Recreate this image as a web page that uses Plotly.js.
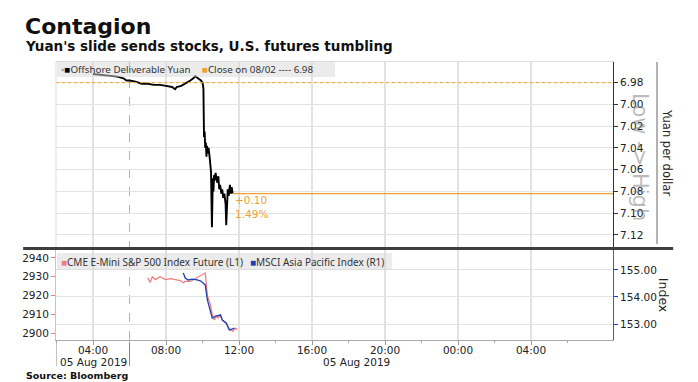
<!DOCTYPE html>
<html>
<head>
<meta charset="utf-8">
<script src="https://cdn.plot.ly/plotly-3.0.1.min.js"></script>
<style>html,body{margin:0;padding:0;background:#fff;}#chart{width:698px;height:382px;}</style>
</head>
<body>
<div id="chart"></div>
<script>
// ---- Data ----
const yuanTime = ["2019-08-05 04:00","2019-08-05 04:30","2019-08-05 05:00","2019-08-05 05:20","2019-08-05 05:40","2019-08-05 05:50","2019-08-05 06:00","2019-08-05 06:20","2019-08-05 06:40","2019-08-05 07:00","2019-08-05 07:20","2019-08-05 07:40","2019-08-05 08:00","2019-08-05 08:20","2019-08-05 08:30","2019-08-05 08:35","2019-08-05 08:50","2019-08-05 09:10","2019-08-05 09:20","2019-08-05 09:30","2019-08-05 09:36","2019-08-05 09:45","2019-08-05 09:55","2019-08-05 10:00","2019-08-05 10:03","2019-08-05 10:05","2019-08-05 10:07","2019-08-05 10:09","2019-08-05 10:11","2019-08-05 10:13","2019-08-05 10:15","2019-08-05 10:17","2019-08-05 10:20","2019-08-05 10:24","2019-08-05 10:28","2019-08-05 10:31","2019-08-05 10:32","2019-08-05 10:34","2019-08-05 10:36","2019-08-05 10:38","2019-08-05 10:40","2019-08-05 10:43","2019-08-05 10:46","2019-08-05 10:49","2019-08-05 10:52","2019-08-05 10:55","2019-08-05 10:58","2019-08-05 11:02","2019-08-05 11:05","2019-08-05 11:08","2019-08-05 11:12","2019-08-05 11:16","2019-08-05 11:18","2019-08-05 11:20","2019-08-05 11:23","2019-08-05 11:26","2019-08-05 11:30","2019-08-05 11:33","2019-08-05 11:36","2019-08-05 11:39"];
const yuanVal = [6.972,6.973,6.974,6.9745,6.976,6.978,6.978,6.979,6.981,6.981,6.982,6.982,6.983,6.984,6.986,6.984,6.983,6.980,6.978,6.976,6.974,6.976,6.978,6.980,6.985,7.030,7.025,7.040,7.035,7.048,7.038,7.045,7.040,7.050,7.062,7.113,7.075,7.068,7.080,7.065,7.070,7.063,7.068,7.072,7.066,7.078,7.074,7.082,7.078,7.086,7.082,7.092,7.111,7.088,7.078,7.084,7.074,7.082,7.076,7.082];

const spTime = ["2019-08-05 07:00","2019-08-05 07:08","2019-08-05 07:15","2019-08-05 07:25","2019-08-05 07:40","2019-08-05 07:58","2019-08-05 08:15","2019-08-05 08:30","2019-08-05 08:47","2019-08-05 08:57","2019-08-05 09:03","2019-08-05 09:20","2019-08-05 09:36","2019-08-05 09:50","2019-08-05 10:02","2019-08-05 10:09","2019-08-05 10:16","2019-08-05 10:26","2019-08-05 10:32","2019-08-05 10:39","2019-08-05 10:46","2019-08-05 10:52","2019-08-05 10:59","2019-08-05 11:05","2019-08-05 11:15","2019-08-05 11:25","2019-08-05 11:32","2019-08-05 11:40","2019-08-05 11:48","2019-08-05 11:55"];
const spVal = [2929.5,2927,2930,2928.5,2930,2928.5,2929,2928.5,2928,2926.8,2927.5,2927.5,2929,2930.5,2931.5,2932,2920,2915,2909.6,2907,2909,2908,2910,2907,2905.5,2903.5,2901.6,2901,2902.5,2902];

const msciTime = ["2019-08-05 08:57","2019-08-05 09:03","2019-08-05 09:13","2019-08-05 09:26","2019-08-05 09:42","2019-08-05 09:53","2019-08-05 10:02","2019-08-05 10:09","2019-08-05 10:16","2019-08-05 10:26","2019-08-05 10:32","2019-08-05 10:41","2019-08-05 10:59","2019-08-05 11:05","2019-08-05 11:18","2019-08-05 11:28","2019-08-05 11:38","2019-08-05 11:45"];
const msciVal = [154.89,154.70,154.63,154.66,154.63,154.60,154.52,154.44,153.89,153.52,153.22,153.28,153.33,153.15,153.04,152.78,152.81,152.85];

const prevClose = 6.98;
const changeLabels = ["+0.10", "1.49%"];
const sessionBreak = "2019-08-05 06:00";
const dateLabelTimes = ["2019-08-05 04:00", "2019-08-05 18:27"];
const dateLabelText = ["05 Aug 2019", "05 Aug 2019"];
const xRange = ["2019-08-05 01:58:21", "2019-08-06 08:29:35"];
const xTickVals = ["2019-08-05 04:00","2019-08-05 08:00","2019-08-05 12:00","2019-08-05 16:00","2019-08-05 20:00","2019-08-06 00:00","2019-08-06 04:00"];
const xTickText = ["04:00","08:00","12:00","16:00","20:00","00:00","04:00"];
const xMinorVals = ["2019-08-05 02:00","2019-08-05 06:00","2019-08-05 10:00","2019-08-05 14:00","2019-08-05 18:00","2019-08-05 22:00","2019-08-06 02:00","2019-08-06 06:00"];
const legendTop = ["Offshore Deliverable Yuan", "Close on 08/02 ---- " + prevClose.toFixed(2)];
const legendBottom = ["CME E-Mini S&P 500 Index Future (L1)", "MSCI Asia Pacific Index (R1)"];

// ---- Styles ----
const FONT = "DejaVu Sans";
const ORANGE = "#f0a030";
const PINK = "#ef7f7f";
const BLUE = "#1f3fb5";
const GRID = "#e2e2e2";
const VGRID = "#d9d9d9";
const lastTime = yuanTime[yuanTime.length - 1];
const lastVal = yuanVal[yuanVal.length - 1];
const TOP_DOM = [0.331, 1];
const BOT_DOM = [0, 0.324];

const traces = [
  {x: yuanTime, y: yuanVal, xaxis: "x2", yaxis: "y", type: "scatter", mode: "lines",
   line: {color: "#000", width: 1.9}, hoverinfo: "skip"},
  {x: spTime, y: spVal, xaxis: "x", yaxis: "y3", type: "scatter", mode: "lines",
   line: {color: PINK, width: 1.3}, hoverinfo: "skip"},
  {x: msciTime, y: msciVal, xaxis: "x", yaxis: "y4", type: "scatter", mode: "lines",
   line: {color: BLUE, width: 1.3}, hoverinfo: "skip"}
];

const tickFont = {family: FONT, size: 10.5, color: "#222"};
const legFont = {family: "Noto Sans", size: 9.8, color: "#333"};

// vertical grid lines at the x tick positions (both panels)
const gridShapes = [];
xTickVals.forEach(v => {
  [TOP_DOM, BOT_DOM].forEach(d => gridShapes.push({
    type: "line", xref: "x", yref: "paper", x0: v, x1: v, y0: d[0], y1: d[1],
    line: {color: VGRID, width: 1.5}, layer: "below"
  }));
});
const minorShapes = xMinorVals.map(v => ({
  type: "line", xref: "x", yref: "paper", x0: v, x1: v, y0: 0, y1: -0.011,
  line: {color: "#aaa", width: 1}
}));

const layout = {
  width: 698, height: 382,
  margin: {l: 56, r: 85, t: 62, b: 42, pad: 0},
  paper_bgcolor: "#fff", plot_bgcolor: "rgba(0,0,0,0)",
  showlegend: false,
  xaxis: {
    type: "date", range: xRange, domain: [0, 1], anchor: "y3",
    tickmode: "array", tickvals: xTickVals, ticktext: xTickText,
    ticks: "outside", ticklen: 4, tickcolor: "#999",
    ticklabelstandoff: -4,
    showgrid: false, zeroline: false,
    showline: true, linecolor: "#aaa", linewidth: 1,
    tickfont: tickFont
  },
  xaxis2: {
    type: "date", range: xRange, domain: [0, 1], anchor: "y",
    tickmode: "array", tickvals: xTickVals, ticktext: xTickText,
    showticklabels: false, ticks: "",
    showgrid: false, zeroline: false,
    side: "top", showline: true, linecolor: "#dddddd"
  },
  yaxis: {
    domain: TOP_DOM, anchor: "x2", side: "right",
    range: [7.132, 6.961], tick0: 6.98, dtick: 0.02, tickformat: ".2f",
    ticks: "outside", ticklen: 4, tickcolor: "#333",
    showline: true, linecolor: "#333", linewidth: 1,
    showgrid: true, gridcolor: GRID, zeroline: false, tickfont: tickFont
  },
  yaxis3: {
    domain: BOT_DOM, anchor: "x", side: "left",
    range: [2896.3, 2944.3], dtick: 10, tick0: 2900,
    ticks: "outside", ticklen: 4, tickcolor: PINK,
    showline: true, linecolor: "#f6b0b0", linewidth: 1,
    showgrid: false, zeroline: false, tickfont: tickFont
  },
  yaxis4: {
    overlaying: "y3", anchor: "x", side: "right",
    range: [152.41, 155.74], dtick: 1, tick0: 153, tickformat: ".2f",
    ticks: "outside", ticklen: 4, tickcolor: BLUE,
    showline: true, linecolor: "#3a5ad8", linewidth: 1,
    showgrid: true, gridcolor: GRID, zeroline: false, tickfont: tickFont
  },
  shapes: gridShapes.concat([
    {type: "line", xref: "paper", yref: "y", x0: 0, x1: 1, y0: prevClose, y1: prevClose,
     line: {color: ORANGE, width: 1, dash: "dot"}, layer: "above"},
    {type: "line", xref: "x2", yref: "y", x0: lastTime, x1: xRange[1], y0: lastVal, y1: lastVal,
     line: {color: ORANGE, width: 1.1}},
    {type: "line", xref: "x", yref: "paper", x0: sessionBreak, x1: sessionBreak, y0: 0, y1: 1,
     line: {color: "#b5b5b5", width: 1, dash: "dash"}, layer: "below"},
    {type: "line", xref: "paper", yref: "paper", x0: 0, x1: 0, y0: 0.331, y1: 1,
     line: {color: "#dddddd", width: 1}},
    {type: "line", xref: "paper", yref: "paper", x0: -0.059, x1: 1.108, y0: 0.3295, y1: 0.3295,
     line: {color: "#3e3e3e", width: 3}},
    {type: "line", xref: "paper", yref: "paper", x0: 1.079, x1: 1.079, y0: 0.345, y1: 1.0,
     line: {color: "#999", width: 1.5}},
    {type: "line", xref: "x", yref: "paper", x0: xRange[0], x1: xRange[0], y0: 0, y1: -0.0935,
     line: {color: "#888", width: 1}},
    {type: "line", xref: "x", yref: "paper", x0: sessionBreak, x1: sessionBreak, y0: 0, y1: -0.0935,
     line: {color: "#888", width: 1}},
    // legend boxes
    {type: "rect", xref: "paper", yref: "paper", x0: 0.0018, x1: 0.501, y0: 0.946, y1: 1.0,
     fillcolor: "rgba(215,215,215,0.5)", line: {width: 0}, layer: "above"},
    {type: "rect", xref: "paper", yref: "paper", x0: 0.0018, x1: 0.603, y0: 0.2518, y1: 0.313,
     fillcolor: "rgba(215,215,215,0.5)", line: {width: 0}, layer: "above"}
  ]).concat(minorShapes),
  annotations: [
    {text: "<b>Contagion</b>", xref: "paper", yref: "paper", x: -0.0592, y: 1.126,
     xanchor: "left", yanchor: "middle", showarrow: false,
     font: {family: FONT, size: 22, color: "#111"}},
    {text: "<b>Yuan's slide sends stocks, U.S. futures tumbling</b>", xref: "paper", yref: "paper",
     x: -0.0592, y: 1.058, xanchor: "left", yanchor: "middle", showarrow: false,
     font: {family: FONT, size: 13.5, color: "#111"}},
    {text: "<b>Source: Bloomberg</b>", xref: "paper", yref: "paper", x: -0.0575, y: -0.126,
     xanchor: "left", yanchor: "middle", showarrow: false,
     font: {family: FONT, size: 9.5, color: "#111"}},
    {text: '<span style="color:#aaaaaa">▪</span><span style="color:#000">■</span>' + legendTop[0],
     xref: "paper", yref: "paper", x: 0.006, y: 0.973, xanchor: "left", yanchor: "middle",
     showarrow: false, font: legFont},
    {text: '<span style="color:' + ORANGE + '">■</span>' + legendTop[1],
     xref: "paper", yref: "paper", x: 0.259, y: 0.973, xanchor: "left", yanchor: "middle",
     showarrow: false, font: legFont},
    {text: '<span style="color:' + PINK + '">■</span>' + legendBottom[0],
     xref: "paper", yref: "paper", x: 0.006, y: 0.282, xanchor: "left", yanchor: "middle",
     showarrow: false, font: Object.assign({}, legFont, {size: 10})},
    {text: '<span style="color:' + BLUE + '">■</span>' + legendBottom[1],
     xref: "paper", yref: "paper", x: 0.345, y: 0.282, xanchor: "left", yanchor: "middle",
     showarrow: false, font: Object.assign({}, legFont, {size: 10})},
    {text: changeLabels[0], xref: "x2", yref: "y", x: lastTime, y: lastVal, xanchor: "left",
     yanchor: "middle", yshift: -6, xshift: 0, showarrow: false,
     font: {family: FONT, size: 10.5, color: ORANGE}},
    {text: changeLabels[1], xref: "x2", yref: "y", x: lastTime, y: lastVal, xanchor: "left",
     yanchor: "middle", yshift: -20, xshift: 0, showarrow: false,
     font: {family: FONT, size: 10.5, color: ORANGE}},
    {text: "Low -> High", xref: "paper", yref: "paper", x: 1.0485, y: 0.658, textangle: 90,
     xanchor: "center", yanchor: "middle", showarrow: false,
     font: {family: FONT, size: 21, color: "rgba(120,120,120,0.5)"}},
    {text: "Yuan per dollar", xref: "paper", yref: "paper", x: 1.097, y: 0.673, textangle: 90,
     xanchor: "center", yanchor: "middle", showarrow: false,
     font: {family: FONT, size: 11.5, color: "#222"}},
    {text: "Index", xref: "paper", yref: "paper", x: 1.09, y: 0.162, textangle: 90,
     xanchor: "center", yanchor: "middle", showarrow: false,
     font: {family: FONT, size: 12.5, color: "#222"}},
    {text: dateLabelText[0], xref: "x", yref: "paper", x: dateLabelTimes[0], y: -0.08,
     xanchor: "center", yanchor: "middle", showarrow: false, font: tickFont},
    {text: dateLabelText[1], xref: "x", yref: "paper", x: dateLabelTimes[1], y: -0.08,
     xanchor: "center", yanchor: "middle", showarrow: false, font: tickFont}
  ]
};

Plotly.newPlot("chart", traces, layout, {staticPlot: true, displayModeBar: false});
</script>
</body>
</html>
